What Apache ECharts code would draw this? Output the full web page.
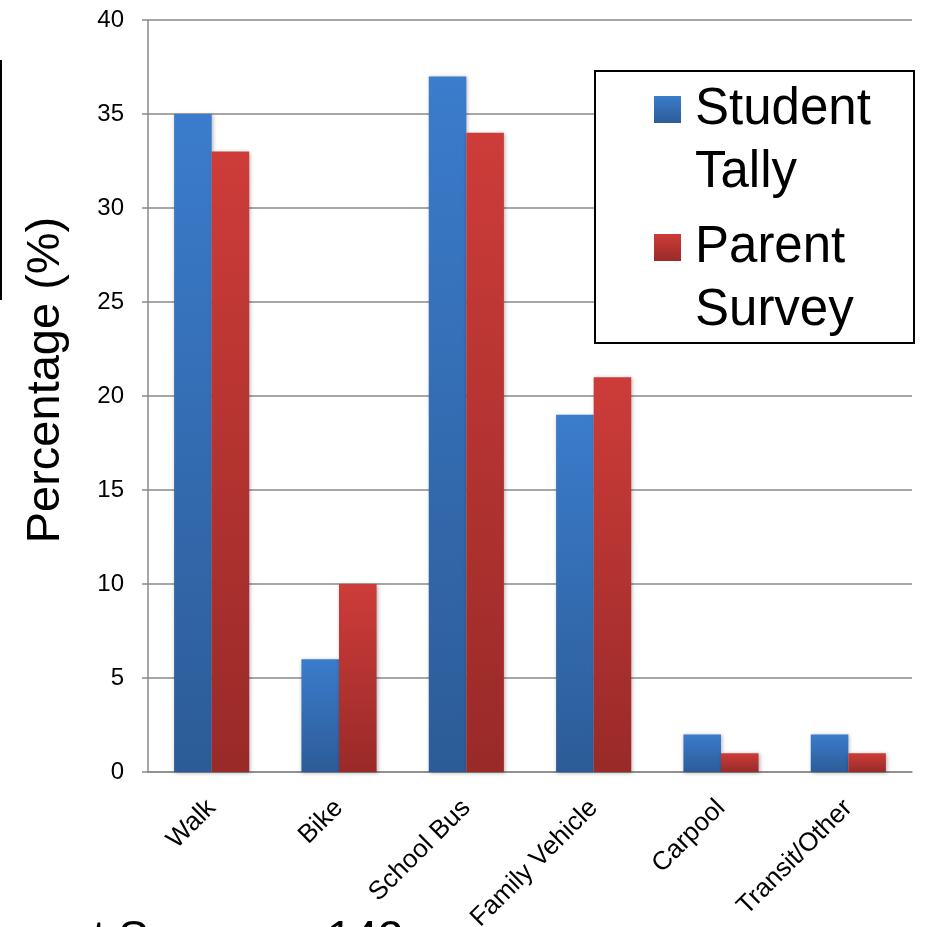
<!DOCTYPE html>
<html>
<head>
<meta charset="utf-8">
<script src="https://cdn.jsdelivr.net/npm/echarts@6/dist/echarts.min.js"></script>
<style>
  html, body { margin: 0; padding: 0; background: #fff; }
  #main { width: 929px; height: 927px; }
</style>
</head>
<body>
<div id="main"></div>
<script>
// data
var categories = ['Walk', 'Bike', 'School Bus', 'Family Vehicle', 'Carpool', 'Transit/Other'];
var seriesNames = ['Student Tally', 'Parent Survey'];
var studentTally = [35, 6, 37, 19, 2, 2];
var parentSurvey = [33, 10, 34, 21, 1, 1];
var yTicks = [0, 5, 10, 15, 20, 25, 30, 35, 40];

var font = 'Arial, "Liberation Sans", sans-serif';

function grad(top, bottom) {
    return new echarts.graphic.LinearGradient(0, 0, 0, 1, [
        { offset: 0, color: top },
        { offset: 1, color: bottom }
    ]);
}

var barShadow = {
    shadowBlur: 4,
    shadowColor: 'rgba(0,0,0,0.3)',
    shadowOffsetX: 1,
    shadowOffsetY: 1
};

var myChart = echarts.init(document.getElementById('main'));

var option = {
    animation: false,
    backgroundColor: '#fff',
    textStyle: { fontFamily: font },
    grid: { left: 148, right: 17, top: 20, bottom: 155, outerBoundsMode: 'none', containLabel: false },
    legend: {
        orient: 'vertical',
        left: 654,
        top: 15,
        padding: 0,
        itemWidth: 27,
        itemHeight: 27,
        itemGap: -51,
        icon: 'rect',
        data: seriesNames,
        // empty first line keeps the icon level with the first word
        formatter: function (name) { return '\n' + name.replace(' ', '\n'); },
        textStyle: {
            fontFamily: font,
            fontSize: 51,
            lineHeight: 63,
            color: '#000',
            padding: [0, 0, 0, 9]
        }
    },
    xAxis: {
        type: 'category',
        data: categories,
        axisLine: { lineStyle: { color: '#8a8a8a', width: 1.5 } },
        axisTick: { length: 7, lineStyle: { color: '#8a8a8a', width: 1.5 } },
        axisLabel: {
            rotate: 45,
            interval: 0,
            margin: 32,
            fontSize: 26,
            color: '#000',
            fontFamily: font
        }
    },
    yAxis: {
        type: 'value',
        min: yTicks[0],
        max: yTicks[yTicks.length - 1],
        interval: 5,
        name: 'Percentage (%)',
        nameLocation: 'middle',
        nameGap: 78,
        nameTextStyle: {
            fontSize: 47,
            color: '#000',
            fontFamily: font,
            padding: [0, 0, 0, 32]
        },
        axisLine: { show: true, lineStyle: { color: '#8a8a8a', width: 1.5 } },
        axisTick: { show: true, length: 6, lineStyle: { color: '#8a8a8a', width: 1.5 } },
        splitLine: { lineStyle: { color: '#8a8a8a', width: 1.5 } },
        axisLabel: {
            margin: 24,
            fontSize: 24,
            color: '#000',
            fontFamily: font
        }
    },
    series: [{
        name: seriesNames[0],
        type: 'bar',
        data: studentTally,
        barGap: '0%',
        barCategoryGap: '41%',
        itemStyle: Object.assign({ color: grad('#3b7ccc', '#2c5c97') }, barShadow)
    }, {
        name: seriesNames[1],
        type: 'bar',
        data: parentSurvey,
        barGap: '0%',
        barCategoryGap: '41%',
        itemStyle: Object.assign({ color: grad('#cd3c39', '#992a28') }, barShadow)
    }],
    graphic: [{
        // legend frame
        type: 'rect',
        z: 3,
        shape: { x: 595, y: 71, width: 319, height: 272 },
        style: { fill: '#fff', stroke: '#000', lineWidth: 2 }
    }, {
        // cropped shape edge at left
        type: 'line',
        z: 3,
        shape: { x1: 1, y1: 60, x2: 1, y2: 300 },
        style: { stroke: '#000', lineWidth: 2 }
    }, {
        // cropped note at bottom
        type: 'text',
        z: 3,
        x: -30,
        y: 940,
        style: {
            text: 'Parent Survey n=142',
            fontSize: 46,
            fontFamily: font,
            fill: '#000',
            verticalAlign: 'middle'
        }
    }]
};

myChart.setOption(option);
</script>
</body>
</html>
